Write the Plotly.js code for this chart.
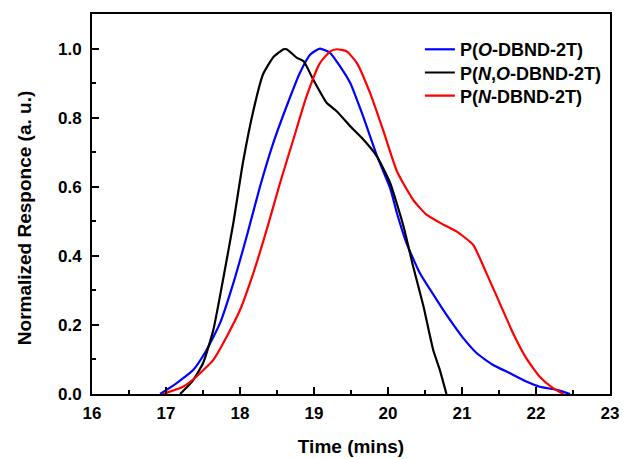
<!DOCTYPE html>
<html>
<head>
<meta charset="utf-8">
<script src="https://cdn.plot.ly/plotly-3.0.1.min.js"></script>
<style>html,body{margin:0;padding:0;background:#fff;}#chart{width:626px;height:459px;}</style>
</head>
<body>
<div id="chart"></div>
<script>
// Series names
const seriesNames = ["P(<i>O</i>-DBND-2T)", "P(<i>N</i>,<i>O</i>-DBND-2T)", "P(<i>N</i>-DBND-2T)"];
const xTitle = "Time (mins)";
const yTitle = "Normalized Responce (a. u.)";

// P(O-DBND-2T) - blue
const blueX = [16.92,17.14,17.37,17.55,17.73,17.91,18.09,18.27,18.45,18.63,18.81,18.95,19.08,19.22,19.35,19.49,19.67,19.85,20.03,20.12,20.25,20.43,20.66,20.84,21.02,21.20,21.42,21.65,21.87,22.05,22.28,22.46];
const blueY = [0,0.031,0.07,0.128,0.205,0.321,0.456,0.60,0.727,0.833,0.93,0.983,1.0,0.987,0.949,0.90,0.80,0.69,0.595,0.524,0.437,0.35,0.272,0.214,0.161,0.118,0.084,0.06,0.036,0.021,0.012,0.0];

// P(N,O-DBND-2T) - black
const blackX = [17.19,17.35,17.50,17.64,17.77,17.91,18.04,18.18,18.31,18.45,18.59,18.63,18.77,18.86,18.99,19.17,19.31,19.49,19.67,19.85,20.03,20.21,20.34,20.48,20.61,20.70,20.79];
const blackY = [0,0.035,0.089,0.186,0.33,0.495,0.67,0.82,0.925,0.975,0.998,0.998,0.973,0.963,0.91,0.843,0.818,0.775,0.736,0.688,0.61,0.485,0.369,0.253,0.128,0.07,0.0];

// P(N-DBND-2T) - red
const redX = [16.96,17.23,17.41,17.64,17.82,18.0,18.18,18.36,18.54,18.72,18.90,19.08,19.22,19.31,19.44,19.58,19.76,19.94,20.12,20.34,20.52,20.75,20.93,21.15,21.33,21.51,21.69,21.87,22.05,22.23,22.37];
const redY = [0,0.021,0.05,0.099,0.166,0.243,0.35,0.475,0.61,0.736,0.862,0.958,0.992,0.998,0.992,0.958,0.87,0.76,0.645,0.562,0.519,0.49,0.47,0.432,0.35,0.263,0.176,0.103,0.05,0.017,0.0];

const FONT = "'Liberation Sans', Arial, sans-serif";

const mk = (x, y, name, color, leg) => ({
  x: x, y: y, name: name, type: 'scatter', mode: 'lines', legend: leg,
  line: {color: color, width: 2.2, shape: 'spline', smoothing: 0.5}
});

const data = [
  mk(blueX, blueY, seriesNames[0], '#0000ff', 'legend'),
  mk(blackX, blackY, seriesNames[1], '#000000', 'legend2'),
  mk(redX, redY, seriesNames[2], '#ff0000', 'legend3')
];

const legendFont = {family: FONT, size: 18, color: '#000', weight: 'bold'};
const mkLegend = (y) => ({
  x: 0.633, y: y, xanchor: 'left', yanchor: 'top',
  bgcolor: 'rgba(0,0,0,0)', borderwidth: 0, font: legendFont
});

const axisCommon = {
  showgrid: false, zeroline: false, showline: true, linecolor: '#000', linewidth: 2,
  mirror: true, ticks: 'inside', ticklen: 7, tickwidth: 2, tickcolor: '#000',
  tickfont: {family: FONT, size: 17, color: '#000', weight: 'bold'}
};

const layout = {
  width: 626, height: 459,
  margin: {l: 92, r: 16, t: 14, b: 65},
  paper_bgcolor: '#fff', plot_bgcolor: '#fff',
  showlegend: true,
  legend: mkLegend(0.955),
  legend2: mkLegend(0.894),
  legend3: mkLegend(0.833),
  xaxis: Object.assign({}, axisCommon, {
    range: [16, 23], dtick: 1, tick0: 16,
    minor: {dtick: 0.5, ticks: 'inside', ticklen: 4, tickwidth: 2, tickcolor: '#000'},
    ticklabelstandoff: 3,
    title: {text: xTitle, font: {family: FONT, size: 19, color: '#000', weight: 'bold'}, standoff: 17}
  }),
  yaxis: Object.assign({}, axisCommon, {
    range: [0, 1.1], dtick: 0.2, tick0: 0, tickformat: '.1f',
    minor: {dtick: 0.1, ticks: 'inside', ticklen: 4, tickwidth: 2, tickcolor: '#000'},
    ticklabelstandoff: 5
  }),
  annotations: [{
    text: yTitle, xref: 'paper', yref: 'paper', x: -0.131, y: 0.463,
    xanchor: 'center', yanchor: 'middle', textangle: -90, showarrow: false,
    font: {family: FONT, size: 19, color: '#000', weight: 'bold'}
  }]
};

Plotly.newPlot('chart', data, layout, {displayModeBar: false, staticPlot: true});
</script>
</body>
</html>
